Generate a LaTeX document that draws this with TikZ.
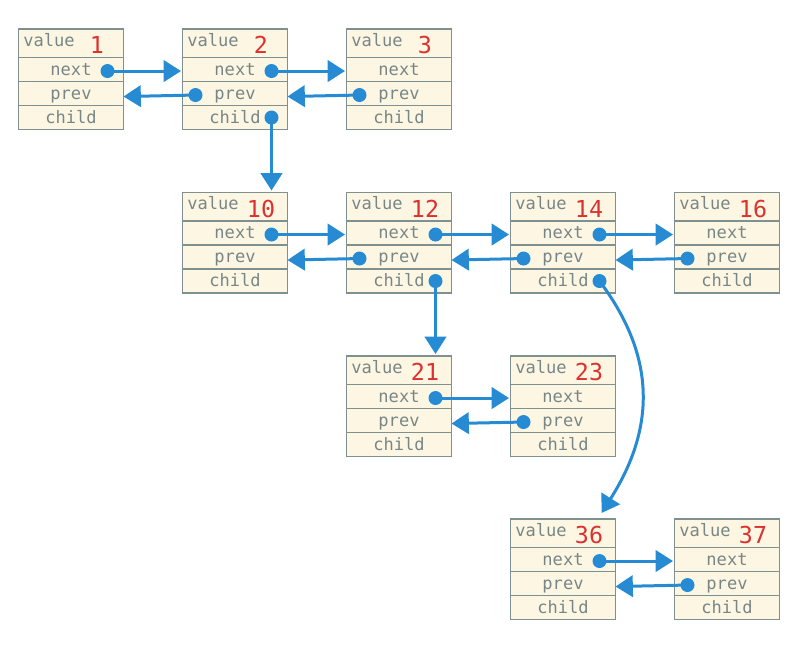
\documentclass[tikz,border=0pt]{standalone}
\usepackage{fontspec}
\setmonofont{DejaVu Sans Mono}
\usetikzlibrary{arrows.meta,positioning}
\definecolor{cellbg}{HTML}{FDF6E3}
\definecolor{cellln}{HTML}{7F9090}
\definecolor{celltx}{HTML}{778787}
\definecolor{keyred}{HTML}{DC322F}
\definecolor{ptr}{HTML}{268BD2}
\tikzset{
  cell/.style={draw=cellln,line width=0.9pt,fill=cellbg,inner sep=0pt,outer sep=0pt,
    minimum width=78.75pt,minimum height=18pt,text height=8.3pt,text depth=0pt,
    text=celltx,font=\ttfamily\fontsize{12.8}{15}\selectfont},
  vcell/.style={cell,minimum height=21.4pt,anchor=north west},
  vlabel/.style={anchor=base west,inner sep=0pt,text=celltx,font=\ttfamily\fontsize{12.8}{15}\selectfont},
  vkey/.style={anchor=base,inner sep=0pt,text=keyred,font=\ttfamily\fontsize{17.5}{19}\selectfont},
  ar/.style={-{Triangle[length=13pt,width=16pt]},line width=2.25pt,draw=ptr},
}
% one list element: number, left, top
\newcommand{\llbox}[3]{%
  \node[vcell] (b#1-v) at (#2,#3) {};
  \node[cell,below=0pt of b#1-v] (b#1-n) {next};
  \node[cell,below=0pt of b#1-n] (b#1-p) {prev};
  \node[cell,below=0pt of b#1-p] (b#1-c) {child};
  \node[vlabel] (b#1-l) at ([shift={(4.5,-11.5)}]b#1-v.south west) {value};
  \node[vkey] (b#1-k) at ([shift={(78.5,-3.6)}]b#1-v.south west) {#1};
}

\begin{document}
\begin{tikzpicture}[x=0.75pt,y=-0.75pt]
\path[use as bounding box,fill=white] (0,0) rectangle (802,651);
\llbox{1}{18.5}{29}
\llbox{2}{182.5}{29}
\llbox{3}{346.5}{29}
\llbox{10}{182.5}{192.5}
\llbox{12}{346.5}{192.5}
\llbox{14}{510.5}{192.5}
\llbox{16}{674.5}{192.5}
\llbox{21}{346.5}{356}
\llbox{23}{510.5}{356}
\llbox{36}{510.5}{519}
\llbox{37}{674.5}{519}
% next / prev pointers
\foreach \a/\b in {1/2,2/3,10/12,12/14,14/16,21/23,36/37}{
  \coordinate (pn\a) at ([shift={(89,1.5)}]b\a-n.west);
  \coordinate (pp\b) at ([shift={(13,1.5)}]b\b-p.west);
  \draw[ar] (pn\a) -- ([shift={(-1.5,1.5)}]b\b-n.west);
  \fill[ptr] (pn\a) circle (5.25pt);
  \draw[ar] (pp\b) -- ([shift={(0,3)}]b\a-p.east);
  \fill[ptr] (pp\b) circle (5.25pt);
}
% child pointers
\foreach \a/\b in {2/10,12/21}{
  \coordinate (pc\a) at ([shift={(89,0)}]b\a-c.west);
  \draw[ar,shorten >=1.5pt] (pc\a) -- (pc\a |- b\b-v.north);
  \fill[ptr] (pc\a) circle (5.25pt);
}
\coordinate (pc14) at ([shift={(89,0)}]b14-c.west);
\draw[ar] (pc14) .. controls +(51,68) and +(59,-93) .. ([shift={(91,-6)}]b36-v.north west);
\fill[ptr] (pc14) circle (5.25pt);
\end{tikzpicture}
\end{document}
